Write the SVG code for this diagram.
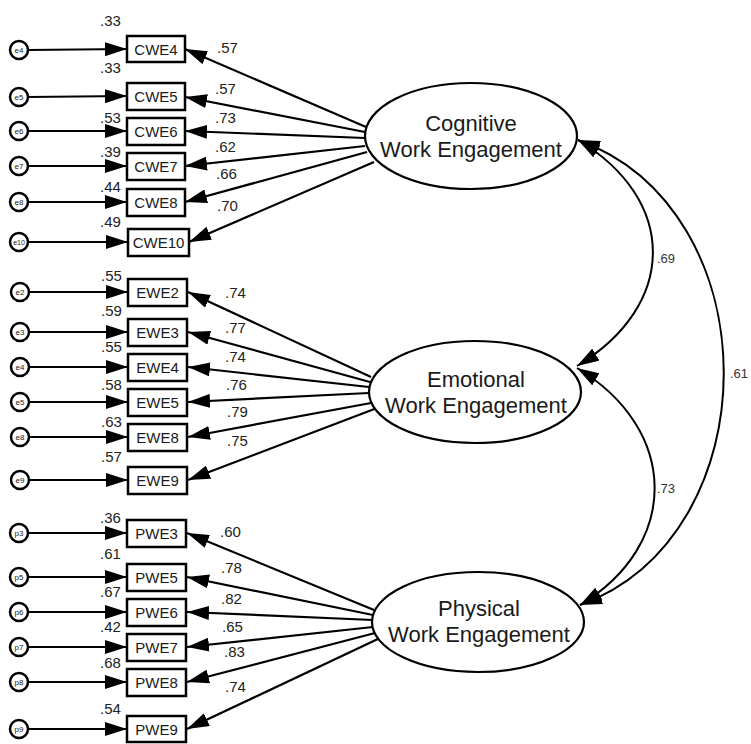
<svg xmlns="http://www.w3.org/2000/svg" width="751" height="744" viewBox="0 0 751 744">
<style>
.bg{fill:#fff}
.err circle{fill:#fff;stroke:#000;stroke-width:2.5}
.err text{font-family:"Liberation Sans",Arial,sans-serif;font-size:8px;fill:#222;text-anchor:middle}
.obs rect{fill:#fff;stroke:#000;stroke-width:2.5}
.obs text{font-family:"Liberation Sans",Arial,sans-serif;font-size:15px;fill:#1a1a1a;text-anchor:middle}
.lat ellipse{fill:#fff;stroke:#000;stroke-width:2.2}
.lat text{font-family:"Liberation Sans",Arial,sans-serif;font-size:22px;fill:#1a1a1a;text-anchor:middle}
.lbl{font-family:"Liberation Sans",Arial,sans-serif;font-size:15px;fill:#222}
.cov{font-family:"Liberation Sans",Arial,sans-serif;font-size:13px;fill:#333}
.ln{fill:none;stroke:#000;stroke-width:2.2;marker-end:url(#ah)}
.cv{fill:none;stroke:#000;stroke-width:2;marker-end:url(#ah);marker-start:url(#ah)}
</style>
<defs>
<marker id="ah" markerUnits="userSpaceOnUse" markerWidth="24" markerHeight="14" refX="22" refY="7" orient="auto-start-reverse" viewBox="0 0 24 14">
<path d="M0,0 L22,7 L0,14 z" fill="#000"/>
</marker>
</defs>
<rect class="bg" x="0" y="0" width="751" height="744"/>

<g id="connectors">
<line class="ln" x1="28" y1="50" x2="127" y2="49"/>
<line class="ln" x1="28" y1="97" x2="127" y2="96"/>
<line class="ln" x1="28" y1="131" x2="127" y2="131"/>
<line class="ln" x1="28" y1="166" x2="127" y2="166"/>
<line class="ln" x1="28" y1="202" x2="127" y2="202"/>
<line class="ln" x1="28" y1="242" x2="128" y2="242"/>
<line class="ln" x1="29" y1="292" x2="128" y2="292"/>
<line class="ln" x1="29" y1="332" x2="128" y2="332"/>
<line class="ln" x1="29" y1="367" x2="128" y2="367"/>
<line class="ln" x1="29" y1="402" x2="128" y2="402"/>
<line class="ln" x1="29" y1="437" x2="128" y2="437"/>
<line class="ln" x1="29" y1="480" x2="128" y2="480"/>
<line class="ln" x1="28" y1="533" x2="127" y2="533"/>
<line class="ln" x1="28" y1="577" x2="127" y2="577"/>
<line class="ln" x1="28" y1="612" x2="127" y2="612"/>
<line class="ln" x1="28" y1="647" x2="127" y2="647"/>
<line class="ln" x1="28" y1="682" x2="127" y2="682"/>
<line class="ln" x1="28" y1="729" x2="127" y2="729"/>
<line class="ln" x1="366" y1="127" x2="185" y2="49"/>
<line class="ln" x1="365" y1="132" x2="185" y2="97"/>
<line class="ln" x1="365" y1="138" x2="185" y2="131"/>
<line class="ln" x1="365" y1="146" x2="185" y2="166"/>
<line class="ln" x1="367" y1="152" x2="185" y2="202"/>
<line class="ln" x1="374" y1="162" x2="189" y2="242"/>
<line class="ln" x1="371" y1="377" x2="188" y2="292"/>
<line class="ln" x1="370" y1="382" x2="188" y2="332"/>
<line class="ln" x1="369" y1="387" x2="188" y2="367"/>
<line class="ln" x1="369" y1="393" x2="188" y2="402"/>
<line class="ln" x1="371" y1="403" x2="188" y2="437"/>
<line class="ln" x1="377" y1="408" x2="188" y2="480"/>
<line class="ln" x1="374" y1="610" x2="187" y2="533"/>
<line class="ln" x1="373" y1="615" x2="187" y2="577"/>
<line class="ln" x1="373" y1="620" x2="187" y2="612"/>
<line class="ln" x1="373" y1="627" x2="187" y2="647"/>
<line class="ln" x1="375" y1="633" x2="187" y2="682"/>
<line class="ln" x1="380" y1="638" x2="187" y2="729"/>
<path class="cv" d="M578 140 C678 200, 678 305, 577 366"/>
<path class="cv" d="M577 368 C680 430, 680 545, 580 605"/>
<path class="cv" d="M578 140 C772 210, 772 535, 580 605"/>
</g>

<g id="errors" class="err">
<g id="c_e4"><circle cx="19" cy="50" r="9"/><text x="19" y="53">e4</text></g>
<g id="c_e5"><circle cx="19" cy="97" r="9"/><text x="19" y="100">e5</text></g>
<g id="c_e6"><circle cx="19" cy="131" r="9"/><text x="19" y="134">e6</text></g>
<g id="c_e7"><circle cx="19" cy="166" r="9"/><text x="19" y="169">e7</text></g>
<g id="c_e8"><circle cx="19" cy="202" r="9"/><text x="19" y="205">e8</text></g>
<g id="c_e10"><circle cx="19" cy="242" r="9"/><text x="19" y="245" style="font-size:7px">e10</text></g>
<g id="em_e2"><circle cx="20" cy="292" r="9"/><text x="20" y="295">e2</text></g>
<g id="em_e3"><circle cx="20" cy="332" r="9"/><text x="20" y="335">e3</text></g>
<g id="em_e4"><circle cx="20" cy="367" r="9"/><text x="20" y="370">e4</text></g>
<g id="em_e5"><circle cx="20" cy="402" r="9"/><text x="20" y="405">e5</text></g>
<g id="em_e8"><circle cx="20" cy="437" r="9"/><text x="20" y="440">e8</text></g>
<g id="em_e9"><circle cx="20" cy="480" r="9"/><text x="20" y="483">e9</text></g>
<g id="p_p3"><circle cx="19" cy="533" r="9"/><text x="19" y="536">p3</text></g>
<g id="p_p5"><circle cx="19" cy="577" r="9"/><text x="19" y="580">p5</text></g>
<g id="p_p6"><circle cx="19" cy="612" r="9"/><text x="19" y="615">p6</text></g>
<g id="p_p7"><circle cx="19" cy="647" r="9"/><text x="19" y="650">p7</text></g>
<g id="p_p8"><circle cx="19" cy="682" r="9"/><text x="19" y="685">p8</text></g>
<g id="p_p9"><circle cx="19" cy="729" r="9"/><text x="19" y="732">p9</text></g>
</g>

<g id="observed" class="obs">
<g id="CWE4"><rect x="127" y="36" width="58" height="26"/><text x="156" y="54.5">CWE4</text></g>
<g id="CWE5"><rect x="127" y="83" width="58" height="27"/><text x="156" y="101.5">CWE5</text></g>
<g id="CWE6"><rect x="127" y="118" width="58" height="27"/><text x="156" y="136.5">CWE6</text></g>
<g id="CWE7"><rect x="127" y="153" width="58" height="27"/><text x="156" y="171.5">CWE7</text></g>
<g id="CWE8"><rect x="127" y="189" width="58" height="27"/><text x="156" y="207.5">CWE8</text></g>
<g id="CWE10"><rect x="128" y="229" width="61" height="27"/><text x="158.5" y="247.5">CWE10</text></g>
<g id="EWE2"><rect x="128" y="279" width="59" height="27"/><text x="157.5" y="297.5">EWE2</text></g>
<g id="EWE3"><rect x="128" y="319" width="59" height="27"/><text x="157.5" y="337.5">EWE3</text></g>
<g id="EWE4"><rect x="128" y="354" width="59" height="27"/><text x="157.5" y="372.5">EWE4</text></g>
<g id="EWE5"><rect x="128" y="389" width="59" height="27"/><text x="157.5" y="407.5">EWE5</text></g>
<g id="EWE8"><rect x="128" y="424" width="59" height="27"/><text x="157.5" y="442.5">EWE8</text></g>
<g id="EWE9"><rect x="128" y="467" width="59" height="27"/><text x="157.5" y="485.5">EWE9</text></g>
<g id="PWE3"><rect x="127" y="520" width="59" height="27"/><text x="156.5" y="538.5">PWE3</text></g>
<g id="PWE5"><rect x="127" y="564" width="59" height="27"/><text x="156.5" y="582.5">PWE5</text></g>
<g id="PWE6"><rect x="127" y="599" width="59" height="27"/><text x="156.5" y="617.5">PWE6</text></g>
<g id="PWE7"><rect x="127" y="634" width="59" height="27"/><text x="156.5" y="652.5">PWE7</text></g>
<g id="PWE8"><rect x="127" y="669" width="59" height="27"/><text x="156.5" y="687.5">PWE8</text></g>
<g id="PWE9"><rect x="127" y="716" width="59" height="26"/><text x="156.5" y="734.5">PWE9</text></g>
</g>

<g id="latents" class="lat">
<g id="Cognitive"><ellipse cx="471" cy="136" rx="106" ry="53"/><text x="471" y="131">Cognitive</text><text x="471" y="157">Work Engagement</text></g>
<g id="Emotional"><ellipse cx="475" cy="392" rx="106" ry="51"/><text x="476" y="387">Emotional</text><text x="476" y="413">Work Engagement</text></g>
<g id="Physical"><ellipse cx="478" cy="622" rx="106" ry="50"/><text x="479" y="616">Physical</text><text x="479" y="642">Work Engagement</text></g>
</g>

<g id="labels">
<text class="lbl" x="100" y="26">.33</text>
<text class="lbl" x="100" y="73">.33</text>
<text class="lbl" x="100" y="123">.53</text>
<text class="lbl" x="100" y="157">.39</text>
<text class="lbl" x="100" y="192">.44</text>
<text class="lbl" x="100" y="227">.49</text>
<text class="lbl" x="101" y="281">.55</text>
<text class="lbl" x="101" y="316">.59</text>
<text class="lbl" x="101" y="352">.55</text>
<text class="lbl" x="101" y="390">.58</text>
<text class="lbl" x="101" y="427">.63</text>
<text class="lbl" x="101" y="462">.57</text>
<text class="lbl" x="100" y="523">.36</text>
<text class="lbl" x="100" y="559">.61</text>
<text class="lbl" x="100" y="597">.67</text>
<text class="lbl" x="100" y="632">.42</text>
<text class="lbl" x="100" y="668">.68</text>
<text class="lbl" x="100" y="714">.54</text>

<text class="lbl" x="217" y="53">.57</text>
<text class="lbl" x="215" y="94">.57</text>
<text class="lbl" x="215" y="123">.73</text>
<text class="lbl" x="215" y="152">.62</text>
<text class="lbl" x="216" y="179">.66</text>
<text class="lbl" x="217" y="211">.70</text>
<text class="lbl" x="225" y="298">.74</text>
<text class="lbl" x="225" y="333">.77</text>
<text class="lbl" x="225" y="362">.74</text>
<text class="lbl" x="226" y="390">.76</text>
<text class="lbl" x="227" y="417">.79</text>
<text class="lbl" x="227" y="446">.75</text>
<text class="lbl" x="220" y="537">.60</text>
<text class="lbl" x="221" y="573">.78</text>
<text class="lbl" x="221" y="604">.82</text>
<text class="lbl" x="222" y="632">.65</text>
<text class="lbl" x="224" y="657">.83</text>
<text class="lbl" x="225" y="692">.74</text>

<text class="cov" x="657" y="263">.69</text>
<text class="cov" x="657" y="493">.73</text>
<text class="cov" x="730" y="378">.61</text>
</g>
</svg>
